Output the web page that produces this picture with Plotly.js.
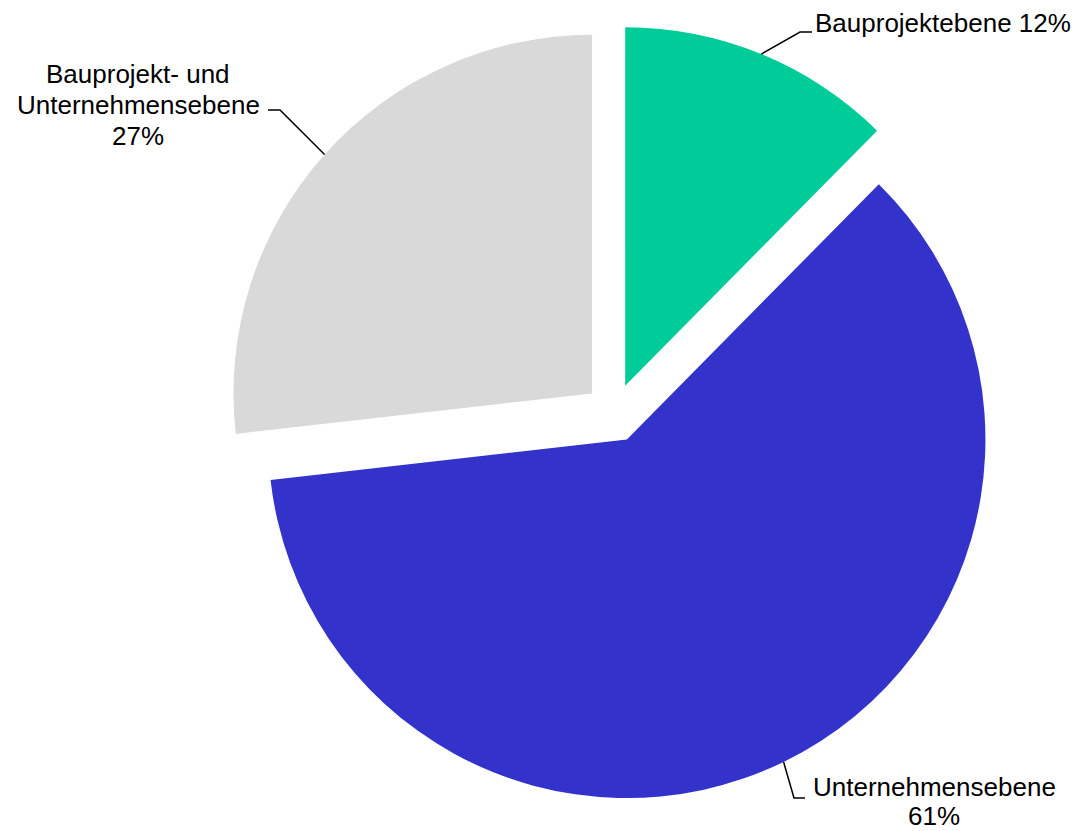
<!DOCTYPE html>
<html><head><meta charset="utf-8">
<script src="https://cdn.plot.ly/plotly-3.0.1.min.js"></script>
<style>html,body{margin:0;padding:0;background:#fff;}#chart{width:1083px;height:831px;}</style>
</head><body><div id="chart"></div>
<script>
// ---- data ----
const categories = ['Bauprojektebene', 'Unternehmensebene', 'Bauprojekt- und Unternehmensebene'];
const shares = [12.4, 60.8, 26.8];
const labelLines = [['Bauprojektebene'], ['Unternehmensebene'], ['Bauprojekt- und', 'Unternehmensebene']];
const percentOnOwnLine = [false, true, true];

// ---- style / layout constants ----
const colors = ['#00CC99', '#3333CC', '#D9D9D9'];
const W = 1083, H = 831;
const CX = 614, CY = 413, R0 = 388;   // pie box centre and half-size (px)
const PULL = 0.082;
const FONT = {family: 'Liberation Sans, Arial, Helvetica, sans-serif', size: 26, color: '#000'};
const LINE_GAP = 30.8;
// label layout per slice: elbow point, line end, text anchor
const labelLayout = [
  {elbow: [800, 32], end: [812, 32], tx: 814, ty: 22.5, xanchor: 'left', gap: LINE_GAP},
  {elbow: [794, 798], end: [805, 798], tx: 934, ty: 787, xanchor: 'center', gap: 28.5},
  {elbow: [280, 110], end: [268, 110], tx: 138, ty: 74, xanchor: 'center', gap: LINE_GAP}
];

const px = x => x / W;
const py = y => 1 - y / H;

const R = R0 / (1 + PULL);
const total = shares.reduce((a, b) => a + b, 0);

const shapes = [];
const annotations = [];
let cum = 0;
shares.forEach((v, i) => {
  const mid = (cum + v / 2) / total * 2 * Math.PI;
  cum += v;
  const rr = R * (1 + PULL);
  const ax = CX + rr * Math.sin(mid), ay = CY - rr * Math.cos(mid);
  const L = labelLayout[i];
  shapes.push({
    type: 'path', xref: 'paper', yref: 'paper',
    path: `M ${px(ax)} ${py(ay)} L ${px(L.elbow[0])} ${py(L.elbow[1])} L ${px(L.end[0])} ${py(L.end[1])}`,
    line: {color: '#000', width: 1.5}
  });
  const pct = Math.round(v / total * 100) + '%';
  let lines = labelLines[i].slice();
  if (percentOnOwnLine[i]) lines.push(pct); else lines[lines.length - 1] += ' ' + pct;
  lines.forEach((t, k) => {
    annotations.push({
      xref: 'paper', yref: 'paper', showarrow: false,
      x: px(L.tx), y: py(L.ty + k * L.gap),
      xanchor: L.xanchor, yanchor: 'middle',
      text: t, font: FONT, borderpad: 0
    });
  });
});

const trace = {
  type: 'pie',
  values: shares,
  labels: categories,
  sort: false,
  direction: 'clockwise',
  rotation: 0,
  pull: shares.map(() => PULL),
  marker: {colors: colors, line: {width: 0}},
  textinfo: 'none',
  hoverinfo: 'none',
  domain: {x: [px(CX - R0), px(CX + R0)], y: [py(CY + R0), py(CY - R0)]}
};

Plotly.newPlot('chart', [trace], {
  width: W, height: H,
  margin: {l: 0, r: 0, t: 0, b: 0},
  paper_bgcolor: '#fff',
  showlegend: false,
  shapes: shapes,
  annotations: annotations
}, {displayModeBar: false, staticPlot: true});
</script>
</body></html>
